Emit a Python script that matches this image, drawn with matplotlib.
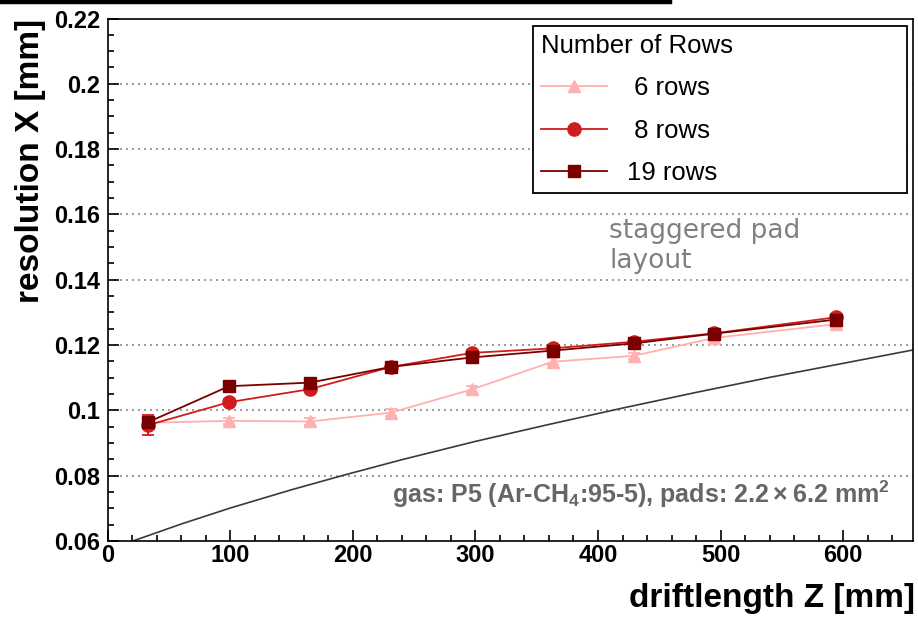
import numpy as np
import matplotlib
matplotlib.use("Agg")
import matplotlib.pyplot as plt
from matplotlib.lines import Line2D
from matplotlib.ticker import MultipleLocator, FuncFormatter

plt.rcParams['font.family'] = ['Liberation Sans', 'DejaVu Sans']
plt.rcParams['mathtext.default'] = 'regular'

# drift length of the measured points [mm]
z = [33, 99, 165, 231, 297, 363, 429, 495, 594]

# spatial resolution in x [mm] per number of rows used
res_6 = [0.0962, 0.0968, 0.0966, 0.0993, 0.1064, 0.1149, 0.1167, 0.1222, 0.1264]
res_8 = [0.0955, 0.1025, 0.1065, 0.1133, 0.1176, 0.1190, 0.1210, 0.1236, 0.1285]
res_19 = [0.0964, 0.1074, 0.1085, 0.1133, 0.1162, 0.1183, 0.1205, 0.1235, 0.1278]
err_6 = [0.001, 0.001, 0.001, 0.001, 0.001, 0.001, 0.001, 0.001, 0.001]
err_8 = [0.003, 0.001, 0.001, 0.001, 0.001, 0.001, 0.001, 0.001, 0.001]
err_19 = [0.001, 0.001, 0.001, 0.001, 0.001, 0.001, 0.001, 0.001, 0.001]

# expected resolution from diffusion
z_exp = [19, 60, 100, 150, 194, 240, 300, 360, 420, 480, 540, 600, 657]
res_exp = [0.0598, 0.0652, 0.0701, 0.0757, 0.0803, 0.0849, 0.0905, 0.0957,
           0.1007, 0.1055, 0.1101, 0.1144, 0.1185]

y_ticks = [0.06, 0.08, 0.10, 0.12, 0.14, 0.16, 0.18, 0.20, 0.22]

fig = plt.figure(figsize=(9.18, 6.18), dpi=100)
ax = fig.add_axes([107.7/918, 1-541/618, (913-107.7)/918, (541-18.5)/618])

ax.plot(z_exp, res_exp, color='#3a3a3a', lw=1.2, zorder=2)

series = [
    (res_6, err_6, '#ffb0b0', '^', '6 rows', 9),
    (res_8, err_8, '#d01c1c', 'o', '8 rows', 9.5),
    (res_19, err_19, '#7a0000', 's', '19 rows', 9),
]
handles = []
for vals, errs, col, mk, lab, ms in series:
    ax.errorbar(z, vals, yerr=errs, color=col, marker=mk, ms=ms, lw=1.3,
                elinewidth=1.3, capsize=4, capthick=1.3, zorder=3)
    handles.append(Line2D([], [], color=col, marker=mk, ms=ms, lw=1.3))

ax.set_xlim(0, 657)
ax.set_ylim(0.06, 0.22)
ax.set_yticks(y_ticks)
ax.yaxis.set_major_formatter(FuncFormatter(lambda v, p: f"{v:g}"))
ax.yaxis.set_minor_locator(MultipleLocator(0.005))
ax.xaxis.set_major_locator(MultipleLocator(100))
ax.xaxis.set_minor_locator(MultipleLocator(20))
ax.tick_params(which='both', direction='in', top=False, right=False,
               width=1.2, labelsize=17)
ax.tick_params(which='major', length=7.7)
ax.tick_params(which='minor', length=4)
ax.tick_params(axis='y', pad=5.5)
ax.tick_params(axis='x', pad=2.5)
for lab in ax.get_xticklabels() + ax.get_yticklabels():
    lab.set_fontweight('bold')
for sp in ax.spines.values():
    sp.set_linewidth(1.2)

for v in y_ticks[1:-1]:
    ax.axhline(v, color='#8a8a8a', lw=1.2, ls=(0, (1.2, 2.4)), zorder=1)

ax.set_ylabel('resolution X [mm]', fontsize=24, fontweight='bold', loc='top')
ax.yaxis.set_label_coords(-0.077, 1.0)
ax.set_xlabel('driftlength Z [mm]', fontsize=24, fontweight='bold', loc='right')
ax.xaxis.set_label_coords(1.0025, -0.080)

leg = ax.legend(handles, [' 6 rows', ' 8 rows', '19 rows'], title='Number of Rows',
                loc='upper left', bbox_to_anchor=(0.528, 0.986, 0.4646, 0.0),
                mode='expand', fontsize=18.5, title_fontsize=18.5, alignment='left',
                frameon=True, fancybox=False, edgecolor='black', framealpha=1,
                handlelength=2.6, handletextpad=0.75, labelspacing=0.72,
                borderpad=0.3, borderaxespad=0)
leg.get_frame().set_linewidth(1.3)

ax.text(409, 0.1436, 'staggered pad\nlayout', family='DejaVu Sans', fontsize=19,
        color='#808080', va='baseline', ha='left')
ax.text(232, 0.0715, 'gas: P5 (Ar-CH$_4$:95-5), pads: $2.2\\times6.2$ mm$^2$',
        fontsize=18, fontweight='bold', color='#666666', va='baseline', ha='left')

fig.add_artist(Line2D([0, 670/918], [1-2/618, 1-2/618], color='black', lw=3.2,
                      transform=fig.transFigure))

fig.savefig('out.png', dpi=100)
